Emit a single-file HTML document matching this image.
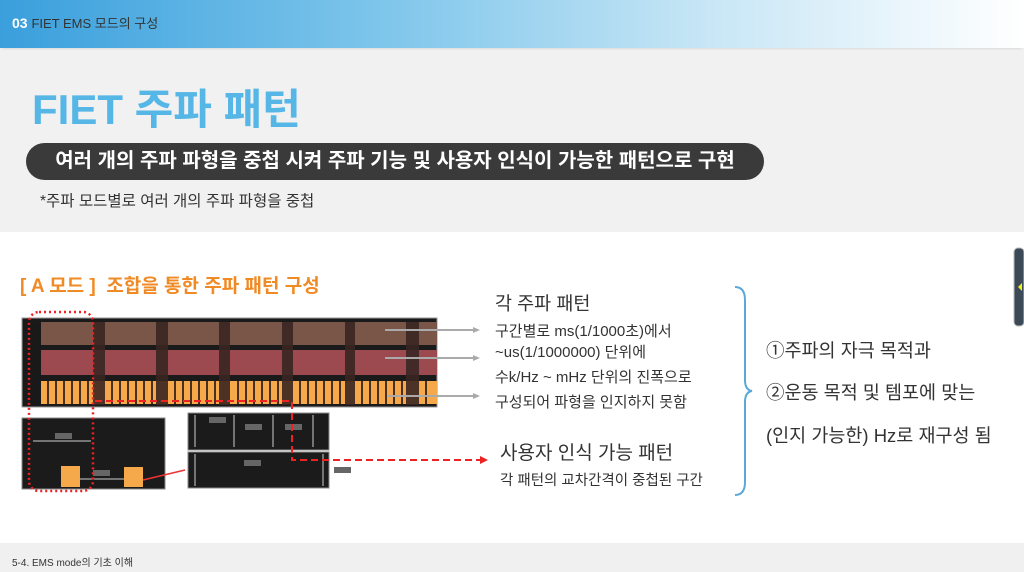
<!DOCTYPE html>
<html><head><meta charset="utf-8"><style>
*{margin:0;padding:0;box-sizing:border-box}
body{width:1024px;height:572px;overflow:hidden;position:relative;background:#fff;font-family:"Liberation Sans","Noto Sans CJK KR",sans-serif}
.a{position:absolute;white-space:nowrap}
</style></head><body>
<div class="a" style="left:0;top:0;width:1024px;height:48px;background:linear-gradient(90deg,#3a9fdc 0%,#79c3ea 35%,#c9e7f6 70%,#fff 100%);box-shadow:0 3px 6px rgba(0,0,0,.15)"></div>
<div class="a" style="left:12px;top:13px;font-size:14px;color:#fff;font-weight:bold">03 <span style="color:#333;font-weight:normal;font-size:13px">FIET EMS 모드의 구성</span></div>
<div class="a" style="left:0;top:50px;width:1024px;height:182px;background:#f1f1f1"></div>
<div class="a" style="left:32px;top:76px;font-size:42px;font-weight:bold;color:#56b6e6">FIET 주파 패턴</div>
<div class="a" style="left:26px;top:143px;width:738px;height:37px;background:#3a3a3a;border-radius:19px;color:#fff;font-size:20px;font-weight:bold;text-align:center;line-height:37px">여러 개의 주파 파형을 중첩 시켜 주파 기능 및 사용자 인식이 가능한 패턴으로 구현</div>
<div class="a" style="left:40px;top:189px;font-size:15.5px;color:#333">*주파 모드별로 여러 개의 주파 파형을 중첩</div>
<div class="a" style="left:20px;top:271px;font-size:19px;font-weight:bold;color:#f08a24">[ A 모드 ]&nbsp; 조합을 통한 주파 패턴 구성</div>

<svg class="a" style="left:0;top:0" width="1024" height="572">
<rect x="22" y="318" width="415" height="89" fill="#1a1a1a" stroke="#999" stroke-width="1"/>
<rect x="41" y="322" width="396" height="23" fill="#7a5648"/>
<rect x="41" y="350" width="396" height="25" fill="#9c4a50"/>
<g fill="#f5a94a"><rect x="41" y="381" width="396" height="23"/></g>
<g fill="#1a1a1a" opacity=".85">
<rect x="28" y="322" width="13" height="83"/>
</g>
<g fill="#3a2622" opacity=".9">
<rect x="93" y="322" width="12" height="83"/><rect x="156" y="322" width="12" height="83"/><rect x="219" y="322" width="11" height="83"/><rect x="282" y="322" width="11" height="83"/><rect x="345" y="322" width="10" height="83"/><rect x="406" y="322" width="13" height="83"/>
</g>
<g stroke="#4a3020" stroke-width="2">
<line x1="48" y1="381" x2="48" y2="404"/><line x1="56" y1="381" x2="56" y2="404"/><line x1="64" y1="381" x2="64" y2="404"/><line x1="72" y1="381" x2="72" y2="404"/><line x1="80" y1="381" x2="80" y2="404"/><line x1="88" y1="381" x2="88" y2="404"/>
<line x1="112" y1="381" x2="112" y2="404"/><line x1="120" y1="381" x2="120" y2="404"/><line x1="128" y1="381" x2="128" y2="404"/><line x1="136" y1="381" x2="136" y2="404"/><line x1="144" y1="381" x2="144" y2="404"/><line x1="152" y1="381" x2="152" y2="404"/>
<line x1="175" y1="381" x2="175" y2="404"/><line x1="183" y1="381" x2="183" y2="404"/><line x1="191" y1="381" x2="191" y2="404"/><line x1="199" y1="381" x2="199" y2="404"/><line x1="207" y1="381" x2="207" y2="404"/><line x1="215" y1="381" x2="215" y2="404"/>
<line x1="238" y1="381" x2="238" y2="404"/><line x1="246" y1="381" x2="246" y2="404"/><line x1="254" y1="381" x2="254" y2="404"/><line x1="262" y1="381" x2="262" y2="404"/><line x1="270" y1="381" x2="270" y2="404"/><line x1="278" y1="381" x2="278" y2="404"/>
<line x1="300" y1="381" x2="300" y2="404"/><line x1="308" y1="381" x2="308" y2="404"/><line x1="316" y1="381" x2="316" y2="404"/><line x1="324" y1="381" x2="324" y2="404"/><line x1="332" y1="381" x2="332" y2="404"/><line x1="340" y1="381" x2="340" y2="404"/>
<line x1="362" y1="381" x2="362" y2="404"/><line x1="370" y1="381" x2="370" y2="404"/><line x1="378" y1="381" x2="378" y2="404"/><line x1="386" y1="381" x2="386" y2="404"/><line x1="394" y1="381" x2="394" y2="404"/><line x1="402" y1="381" x2="402" y2="404"/><line x1="426" y1="381" x2="426" y2="404"/>
</g>
<g stroke="#aaa" stroke-width="2"><line x1="385" y1="330" x2="478" y2="330"/><line x1="385" y1="358" x2="478" y2="358"/><line x1="388" y1="396" x2="478" y2="396"/></g>
<g fill="#aaa"><polygon points="480,330 473,327 473,333"/><polygon points="480,358 473,355 473,361"/><polygon points="480,396 473,393 473,399"/></g>
<rect x="22" y="418" width="143" height="71" fill="#1b1b1b" stroke="#888"/>
<rect x="61" y="466" width="19" height="21" fill="#f5a94a"/><rect x="124" y="467" width="19" height="20" fill="#f5a94a"/>
<line x1="33" y1="441" x2="91" y2="441" stroke="#ccc"/><rect x="55" y="433" width="17" height="6" fill="#666"/>
<line x1="80" y1="479" x2="124" y2="479" stroke="#ccc"/><rect x="93" y="470" width="17" height="6" fill="#666"/>
<rect x="188" y="413" width="141" height="37" fill="#1b1b1b" stroke="#888"/>
<rect x="188" y="452" width="141" height="36" fill="#1b1b1b" stroke="#888"/>
<g stroke="#ccc"><line x1="195" y1="415" x2="195" y2="447"/><line x1="234" y1="415" x2="234" y2="447"/><line x1="273" y1="415" x2="273" y2="447"/><line x1="313" y1="415" x2="313" y2="447"/><line x1="195" y1="454" x2="195" y2="486"/><line x1="323" y1="454" x2="323" y2="486"/></g>
<g fill="#666"><rect x="209" y="417" width="17" height="6"/><rect x="245" y="424" width="17" height="6"/><rect x="285" y="424" width="17" height="6"/><rect x="244" y="460" width="17" height="6"/><rect x="334" y="467" width="17" height="6"/></g>
<line x1="143" y1="480" x2="185" y2="470" stroke="#e33" stroke-width="1.5"/>
<rect x="29" y="312" width="64" height="179" rx="10" fill="none" stroke="#e22" stroke-width="2.5" stroke-dasharray="2,3"/>
<polyline points="95,401 292,401 292,460 482,460" fill="none" stroke="#e22" stroke-width="2" stroke-dasharray="7,4"/>
<polygon points="488,460 480,456 480,464" fill="#e22"/>
<path d="M735,287 Q745,287 745,300 L745,380 Q745,390 752,391 Q745,392 745,402 L745,482 Q745,495 735,495" fill="none" stroke="#5aa8d8" stroke-width="2"/>
<rect x="1014" y="248" width="10" height="78" rx="4" fill="#3c4a58" stroke="#bbb"/>
<polygon points="1018,287 1022,283 1022,291" fill="#ee2"/>
</svg>
<div class="a" style="left:495px;top:290px;font-size:18.5px;color:#333">각 주파 패턴</div>
<div class="a" style="left:495px;top:321px;font-size:15px;color:#333;line-height:21px">구간별로 ms(1/1000초)에서<br>~us(1/1000000) 단위에</div>
<div class="a" style="left:495px;top:366px;font-size:15px;color:#333">수k/Hz ~ mHz 단위의 진폭으로</div>
<div class="a" style="left:495px;top:391px;font-size:15px;color:#333">구성되어 파형을 인지하지 못함</div>
<div class="a" style="left:500px;top:438px;font-size:19px;color:#333">사용자 인식 가능 패턴</div>
<div class="a" style="left:500px;top:469px;font-size:14.5px;color:#333">각 패턴의 교차간격이 중첩된 구간</div>
<div class="a" style="left:766px;top:337px;font-size:18.5px;color:#333">①주파의 자극 목적과</div>
<div class="a" style="left:766px;top:379px;font-size:18.5px;color:#333">②운동 목적 및 템포에 맞는</div>
<div class="a" style="left:766px;top:422px;font-size:18.5px;color:#333">(인지 가능한) Hz로 재구성 됨</div>
<div class="a" style="left:0;top:543px;width:1024px;height:29px;background:#f0f0f0"></div>
<div class="a" style="left:12px;top:554px;font-size:10px;color:#333">5-4. EMS mode의 기초 이해</div>
</body></html>
